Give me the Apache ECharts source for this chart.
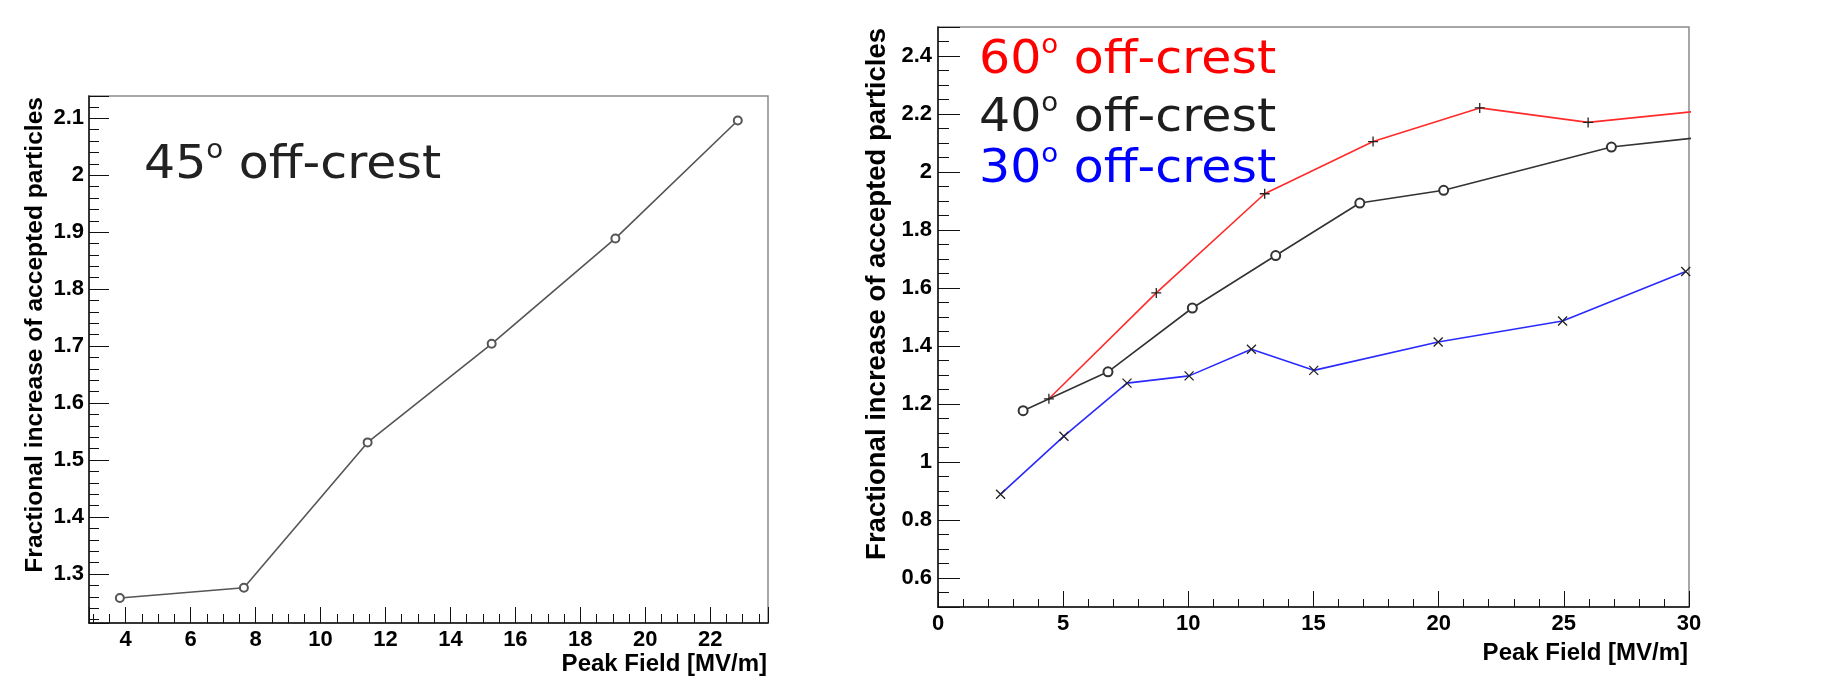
<!DOCTYPE html>
<html><head><meta charset="utf-8">
<script src="https://cdn.jsdelivr.net/npm/echarts@6/dist/echarts.min.js"></script>
<style>html,body{margin:0;padding:0;background:#fff}#c{width:1821px;height:682px}</style>
</head><body><div id="c"></div>
<script>
// ---------- data ----------
const leftX  = [3.82, 7.64, 11.45, 15.27, 19.08, 22.85];
const leftY  = [1.258, 1.276, 1.531, 1.704, 1.889, 2.096];

const red60X = [4.43, 8.72, 13.05, 17.38, 21.64, 25.97, 30.4];
const red60Y = [1.218, 1.583, 1.925, 2.105, 2.221, 2.171, 2.21];

const blk40X = [3.40, 6.79, 10.16, 13.49, 16.85, 20.2, 26.9, 30.3];
const blk40Y = [1.177, 1.311, 1.531, 1.712, 1.893, 1.937, 2.086, 2.118];

const blu30X = [2.5, 5.03, 7.55, 10.03, 12.52, 15.01, 19.98, 24.95, 29.87];
const blu30Y = [0.889, 1.089, 1.272, 1.297, 1.389, 1.316, 1.414, 1.486, 1.657];

const leftLabelAngle = '45';
const rightLabelAngles = ['60', '40', '30'];
const labelSuffix = ' off-crest';
const xTitle = 'Peak Field [MV/m]';
const yTitle = 'Fractional increase of accepted particles';

// ---------- helpers ----------
const zip = (xs, ys) => xs.map((x, i) => [x, ys[i]]);
const AX_FONT = '"Liberation Sans", Arial, sans-serif';
const LEG_FONT = '"DejaVu Sans", sans-serif';

const chart = echarts.init(document.getElementById('c'), null, { renderer: 'canvas' });

const tickStyle = { color: '#111', width: 1 };
const labelBase = { color: '#000', fontFamily: AX_FONT, fontWeight: 'bold', fontSize: 22 };

const option = {
  animation: false,
  backgroundColor: '#fff',
  grid: [
    { left: 89, top: 96, width: 679, height: 527, show: true, borderColor: '#8a8a8a', borderWidth: 1.5, backgroundColor: 'transparent' },
    { left: 938, top: 27, width: 751, height: 580, show: true, borderColor: '#8a8a8a', borderWidth: 1.5, backgroundColor: 'transparent' }
  ],
  xAxis: [
    {
      type: 'value', gridIndex: 0, min: 2.87, max: 23.78, minInterval: 2, maxInterval: 2,
      splitLine: { show: false },
      axisLine: { onZero: false, lineStyle: { color: '#111', width: 1.5 } },
      axisTick: { inside: true, length: 16, lineStyle: tickStyle },
      minorTick: { show: true, splitNumber: 4, length: 9, lineStyle: tickStyle },
      axisLabel: Object.assign({ margin: 6, showMinLabel: false, showMaxLabel: false }, labelBase)
    },
    {
      type: 'value', gridIndex: 1, min: 0, max: 30, interval: 5,
      splitLine: { show: false },
      axisLine: { onZero: false, lineStyle: { color: '#111', width: 1.5 } },
      axisTick: { inside: true, length: 16, lineStyle: tickStyle },
      minorTick: { show: true, splitNumber: 5, length: 8, lineStyle: tickStyle },
      axisLabel: Object.assign({ margin: 6 }, labelBase)
    }
  ],
  yAxis: [
    {
      type: 'value', gridIndex: 0, min: 1.214, max: 2.139, minInterval: 0.1, maxInterval: 0.1,
      splitLine: { show: false },
      axisLine: { onZero: false, lineStyle: { color: '#111', width: 1.5 } },
      axisTick: { inside: true, length: 20, lineStyle: tickStyle },
      minorTick: { show: true, splitNumber: 5, length: 10, lineStyle: tickStyle },
      axisLabel: Object.assign({ margin: 5, showMinLabel: false, showMaxLabel: false }, labelBase)
    },
    {
      type: 'value', gridIndex: 1, min: 0.5, max: 2.5, minInterval: 0.2, maxInterval: 0.2,
      splitLine: { show: false },
      axisLine: { onZero: false, lineStyle: { color: '#111', width: 1.5 } },
      axisTick: { inside: true, length: 22, lineStyle: tickStyle },
      minorTick: { show: true, splitNumber: 4, length: 11, lineStyle: tickStyle },
      axisLabel: Object.assign({ margin: 6, showMinLabel: false, showMaxLabel: false }, labelBase)
    }
  ],
  series: [
    {
      name: '45', type: 'line', xAxisIndex: 0, yAxisIndex: 0, data: zip(leftX, leftY),
      symbol: 'emptyCircle', symbolSize: 8, showAllSymbol: true,
      lineStyle: { color: '#555', width: 1.6 },
      itemStyle: { color: '#555', borderColor: '#555', borderWidth: 1.2 }
    },
    {
      name: '60', type: 'line', xAxisIndex: 1, yAxisIndex: 1, data: zip(red60X, red60Y),
      symbol: 'path://M0,5L10,5M5,0L5,10', symbolSize: 10, showAllSymbol: true,
      lineStyle: { color: '#ff2a2a', width: 1.6 },
      itemStyle: { color: 'rgba(0,0,0,0)', borderColor: '#222', borderWidth: 1.3 }
    },
    {
      name: '40', type: 'line', xAxisIndex: 1, yAxisIndex: 1, data: zip(blk40X, blk40Y),
      symbol: 'emptyCircle', symbolSize: 9, showAllSymbol: true,
      lineStyle: { color: '#333', width: 1.6 },
      itemStyle: { color: '#333', borderColor: '#333', borderWidth: 1.3 }
    },
    {
      name: '30', type: 'line', xAxisIndex: 1, yAxisIndex: 1, data: zip(blu30X, blu30Y),
      symbol: 'path://M0,0L10,10M10,0L0,10', symbolSize: 9, showAllSymbol: true,
      lineStyle: { color: '#2a2aff', width: 1.6 },
      itemStyle: { color: 'rgba(0,0,0,0)', borderColor: '#222', borderWidth: 1.3 }
    }
  ],
  graphic: []
};

// axis titles
const titles = [
  { x: 767, y: 664, rot: 0, size: 24 },
  { x: 1688, y: 653, rot: 0, size: 24 },
  { x: 35, y: 97, rot: Math.PI / 2, size: 24.6 },
  { x: 877, y: 28, rot: Math.PI / 2, size: 27.5 }
];
titles.forEach((t, i) => {
  option.graphic.push({
    type: 'text', x: t.x, y: t.y, rotation: t.rot, silent: true,
    style: {
      text: i < 2 ? xTitle : yTitle,
      font: 'bold ' + t.size + 'px ' + AX_FONT,
      fill: '#000', align: 'right', verticalAlign: 'middle'
    }
  });
});

// in-plot labels
function angleLabel(angle, x, top, color) {
  return {
    type: 'text', x: x, y: top, scaleX: 1.065, silent: true,
    style: {
      text: '{n|' + angle + '}{s|o}{n|' + labelSuffix + '}',
      align: 'left', verticalAlign: 'top',
      rich: {
        n: { fontFamily: LEG_FONT, fontSize: 46, lineHeight: 56, fill: color, verticalAlign: 'middle' },
        s: { fontFamily: LEG_FONT, fontSize: 26, lineHeight: 44, fill: color, verticalAlign: 'top' }
      }
    }
  };
}
option.graphic.push(angleLabel(leftLabelAngle, 144, 138, '#222'));
const rightColors = ['#ff0000', '#1e1e1e', '#0000ff'];
const rightTops = [33.5, 91, 142];
rightLabelAngles.forEach((a, i) => option.graphic.push(angleLabel(a, 979, rightTops[i], rightColors[i])));

chart.setOption(option);
</script>
</body></html>
